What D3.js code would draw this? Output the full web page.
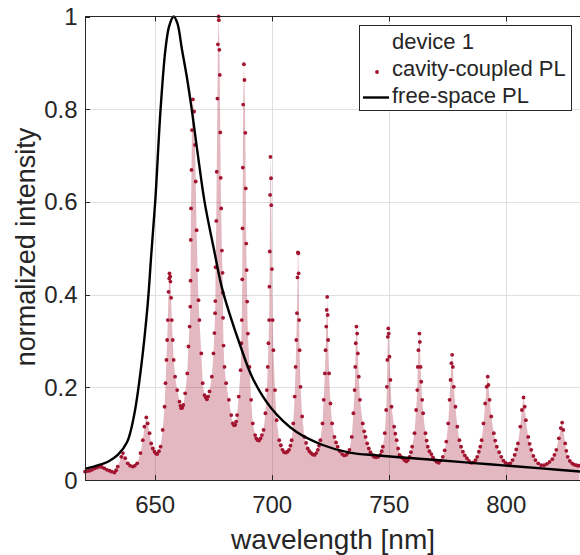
<!DOCTYPE html>
<html>
<head>
<meta charset="utf-8">
<script src="https://cdn.jsdelivr.net/npm/d3@7"></script>
<style>
  body { margin: 0; background: white; }
  svg text { font-family: "Liberation Sans", Arial, Helvetica, sans-serif; fill: #262626; }
</style>
</head>
<body>
<div id="chart"></div>
<script>
// cavity-coupled PL (wavelength in nm, normalized intensity)
var cavWavelength = [
  620.0, 621.9, 624.1, 626.2, 628.3, 630.5, 632.6, 634.0, 635.5, 636.2, 637.2, 638.3, 640.4, 642.3,
  643.7, 644.7, 645.4, 646.2, 646.8, 647.6, 648.3, 649.7, 650.9, 652.3, 653.2, 654.0, 654.4, 654.8,
  655.1, 655.4, 655.7, 656.0, 656.1, 656.4, 656.5, 656.8, 657.1, 657.5, 657.9, 658.5, 659.4, 660.4,
  661.1, 662.0, 662.8, 663.7, 664.2, 664.7, 665.0, 665.1, 665.2, 665.3, 665.5, 665.7, 666.1, 666.6,
  667.0, 667.3, 667.7, 668.1, 668.5, 668.9, 669.7, 670.3, 671.1, 672.1, 673.2, 674.2, 674.9, 675.3,
  675.6, 675.7, 675.8, 676.1, 676.3, 676.6, 676.8, 677.1, 677.2, 677.4, 677.6, 677.8, 678.0, 678.2,
  678.5, 678.8, 678.9, 679.0, 679.2, 679.6, 680.3, 681.5, 682.5, 683.2, 684.2, 685.0, 685.7, 686.5,
  686.8, 687.0, 687.2, 687.3, 687.45, 687.6, 687.9, 688.15, 688.5, 688.7, 688.9, 689.1, 689.3, 689.6,
  690.3, 691.0, 691.7, 692.7, 693.8, 695.0, 696.3, 697.1, 697.7, 698.1, 698.4, 698.7, 698.8, 698.95,
  699.1, 699.25, 699.5, 699.6, 699.9, 700.2, 700.5, 701.2, 701.9, 703.0, 704.4, 705.8, 707.2, 708.3,
  709.0, 709.6, 710.0, 710.3, 710.6, 710.8, 711.0, 711.15, 711.3, 711.5, 711.7, 712.1, 712.8, 713.8,
  715.2, 716.6, 718.1, 719.5, 720.6, 721.5, 722.0, 722.5, 722.8, 723.1, 723.3, 723.5, 723.7, 723.9,
  724.3, 724.9, 725.6, 726.6, 728.0, 729.9, 731.6, 733.0, 734.0, 734.7, 735.2, 735.5, 735.7, 736.0,
  736.3, 736.6, 737.0, 737.5, 738.7, 739.9, 741.3, 742.7, 744.4, 746.2, 747.3, 748.1, 748.7, 749.0,
  749.2, 749.4, 749.6, 749.8, 750.1, 750.5, 751.0, 752.1, 753.2, 754.4, 755.8, 757.3, 758.7, 759.8,
  760.8, 761.5, 762.0, 762.2, 762.5, 762.9, 763.1, 763.4, 763.7, 764.1, 764.5, 765.5, 766.5, 768.0,
  769.4, 771.2, 772.9, 774.4, 775.2, 775.8, 776.2, 776.6, 776.9, 777.2, 777.6, 778.3, 779.1, 780.0,
  781.5, 783.2, 785.0, 786.9, 788.3, 789.5, 790.3, 791.0, 791.6, 792.1, 792.4, 792.9, 793.6, 794.7,
  796.0, 797.9, 799.7, 801.7, 803.6, 805.0, 806.0, 806.7, 807.4, 807.9, 808.4, 809.4, 810.7, 812.5,
  815.0, 817.4, 819.7, 821.4, 822.5, 823.3, 823.9, 824.4, 825.2, 826.3, 828.2, 829.9, 831.3
];
var cavIntensity = [
  0.018, 0.020, 0.025, 0.029, 0.025, 0.020, 0.016, 0.029, 0.050, 0.058, 0.047, 0.036, 0.029, 0.036,
  0.058, 0.086, 0.115, 0.135, 0.122, 0.101, 0.079, 0.061, 0.056, 0.072, 0.108, 0.158, 0.209, 0.259,
  0.302, 0.345, 0.406, 0.435, 0.446, 0.439, 0.428, 0.393, 0.345, 0.302, 0.259, 0.223, 0.194, 0.169,
  0.155, 0.162, 0.187, 0.230, 0.288, 0.331, 0.374, 0.430, 0.518, 0.586, 0.669, 0.755, 0.821, 0.795,
  0.723, 0.644, 0.539, 0.453, 0.388, 0.345, 0.273, 0.209, 0.183, 0.174, 0.191, 0.223, 0.273, 0.317,
  0.360, 0.386, 0.459, 0.559, 0.665, 0.823, 0.940, 1.000, 0.992, 0.928, 0.874, 0.750, 0.652, 0.586,
  0.495, 0.447, 0.404, 0.350, 0.290, 0.244, 0.209, 0.173, 0.140, 0.122, 0.119, 0.140, 0.180, 0.237,
  0.295, 0.345, 0.433, 0.543, 0.674, 0.810, 0.897, 0.863, 0.749, 0.629, 0.510, 0.453, 0.385, 0.316,
  0.244, 0.173, 0.122, 0.097, 0.086, 0.090, 0.108, 0.144, 0.194, 0.244, 0.295, 0.345, 0.417, 0.493,
  0.615, 0.697, 0.651, 0.593, 0.455, 0.345, 0.280, 0.194, 0.129, 0.086, 0.065, 0.059, 0.065, 0.086,
  0.122, 0.180, 0.244, 0.302, 0.360, 0.437, 0.491, 0.489, 0.446, 0.345, 0.280, 0.201, 0.137, 0.093,
  0.068, 0.058, 0.054, 0.065, 0.086, 0.122, 0.173, 0.230, 0.280, 0.331, 0.367, 0.395, 0.356, 0.302,
  0.230, 0.165, 0.122, 0.093, 0.072, 0.056, 0.054, 0.065, 0.093, 0.144, 0.194, 0.244, 0.295, 0.331,
  0.316, 0.273, 0.223, 0.173, 0.122, 0.093, 0.068, 0.054, 0.049, 0.054, 0.072, 0.101, 0.151, 0.201,
  0.259, 0.309, 0.327, 0.316, 0.266, 0.216, 0.158, 0.115, 0.086, 0.054, 0.047, 0.040, 0.050, 0.072,
  0.101, 0.151, 0.194, 0.244, 0.280, 0.316, 0.298, 0.244, 0.212, 0.173, 0.144, 0.101, 0.072, 0.056,
  0.043, 0.037, 0.050, 0.083, 0.122, 0.173, 0.216, 0.252, 0.270, 0.244, 0.201, 0.158, 0.115, 0.086,
  0.061, 0.047, 0.037, 0.043, 0.061, 0.086, 0.122, 0.165, 0.201, 0.223, 0.205, 0.173, 0.137, 0.101,
  0.072, 0.050, 0.037, 0.036, 0.054, 0.079, 0.115, 0.151, 0.178, 0.158, 0.129, 0.093, 0.065, 0.043,
  0.032, 0.035, 0.045, 0.065, 0.090, 0.112, 0.124, 0.108, 0.079, 0.050, 0.036, 0.032, 0.031
];

// extra readings in the dense valleys between the resonances
var cavValleyWavelength = [
  620.8, 623.0, 625.2, 627.2, 629.4, 631.5, 633.3, 639.3, 641.3, 649.0, 650.3, 651.6, 660.8, 661.6,
  671.6, 672.6, 683.7, 684.6, 693.2, 694.4, 695.6, 703.7, 705.1, 706.5, 707.8, 714.5, 715.9, 717.3,
  718.8, 720.0, 727.3, 728.9, 730.7, 732.3, 739.3, 740.6, 742.0, 743.5, 745.3, 746.8, 752.6, 753.8,
  755.1, 756.5, 758.0, 759.3, 766.0, 767.2, 768.7, 770.3, 772.0, 773.7, 780.7, 782.3, 784.1, 785.9,
  787.6, 788.9, 795.3, 797.0, 798.8, 800.7, 802.7, 804.3, 810.0, 811.6, 813.7, 816.2, 818.5, 820.6,
  825.7, 827.2, 829.0, 830.6
];
var cavValleyIntensity = [
  0.019, 0.022, 0.027, 0.028, 0.022, 0.018, 0.021, 0.031, 0.031, 0.068, 0.057, 0.062, 0.160, 0.156,
  0.178, 0.180, 0.118, 0.126, 0.090, 0.085, 0.097, 0.075, 0.060, 0.061, 0.074, 0.080, 0.062, 0.055,
  0.058, 0.074, 0.081, 0.062, 0.053, 0.058, 0.105, 0.079, 0.060, 0.050, 0.050, 0.062, 0.100, 0.068,
  0.050, 0.043, 0.043, 0.060, 0.085, 0.062, 0.049, 0.039, 0.042, 0.064, 0.072, 0.053, 0.041, 0.038,
  0.050, 0.072, 0.085, 0.060, 0.042, 0.035, 0.043, 0.066, 0.078, 0.052, 0.036, 0.032, 0.039, 0.054,
  0.063, 0.041, 0.033, 0.031
];

// free-space PL
var freeWavelength = [
  620, 625, 630, 634, 638, 641, 644, 646.8, 648.3, 650, 652.3, 654.4, 656, 657.9, 659.5, 661.4,
  663.5, 665.6, 668, 671.1, 675, 678.5, 682, 686, 691.7, 699.6, 710.3, 721.6, 733, 745, 754.4,
  770, 785, 800, 815, 832
];
var freeIntensity = [
  0.024, 0.031, 0.040, 0.054, 0.082, 0.140, 0.244, 0.380, 0.485, 0.600, 0.800, 0.930, 0.980, 1.000,
  0.985, 0.930, 0.870, 0.800, 0.710, 0.600, 0.500, 0.415, 0.355, 0.295, 0.219, 0.155, 0.104, 0.0755,
  0.059, 0.053, 0.049, 0.043, 0.037, 0.031, 0.025, 0.018
];

var xTicks = [650, 700, 750, 800];
var yTicks = [0, 0.2, 0.4, 0.6, 0.8, 1];
var yTickLabels = ["0", "0.2", "0.4", "0.6", "0.8", "1"];
var legendLabels = ["device 1", "cavity-coupled PL", "free-space PL"];

var width      = 580;
var height     = 555;
var plotLeft   = 85;
var plotRight  = 581.1;
var plotTop    = 16.5;
var plotBottom = 480;
var darkRed    = "#A2142F";
var axisColor  = "#262626";
var gridColor  = "#dfdfdf";

var x = d3.scaleLinear().domain([620, 832]).range([plotLeft, plotRight]);
var y = d3.scaleLinear().domain([0, 1]).range([plotBottom, plotTop]);

var svg = d3.select("#chart")
  .append("svg")
  .attr("width", width)
  .attr("height", height);

// grid
svg.append("g").selectAll("line")
  .data(xTicks)
  .join("line")
  .attr("x1", function(d) { return Math.round(x(d)) + 0.5; })
  .attr("x2", function(d) { return Math.round(x(d)) + 0.5; })
  .attr("y1", plotTop)
  .attr("y2", plotBottom)
  .style("stroke", gridColor);

svg.append("g").selectAll("line")
  .data(yTicks.slice(1, -1))
  .join("line")
  .attr("x1", plotLeft)
  .attr("x2", plotRight)
  .attr("y1", function(d) { return Math.round(y(d)) + 0.5; })
  .attr("y2", function(d) { return Math.round(y(d)) + 0.5; })
  .style("stroke", gridColor);

var cavData = cavWavelength.map(function(w, i) { return [w, cavIntensity[i]]; })
  .concat(cavValleyWavelength.map(function(w, i) { return [w, cavValleyIntensity[i]]; }))
  .sort(function(a, b) { return a[0] - b[0]; });
var freeData = freeWavelength.map(function(w, i) { return [w, freeIntensity[i]]; });

// shaded area under the cavity spectrum
var area = d3.area()
  .x(function(d) { return x(d[0]); })
  .y0(y(0))
  .y1(function(d) { return y(d[1]); });

svg.append("path")
  .datum(cavData)
  .attr("d", area)
  .style("fill", darkRed)
  .style("fill-opacity", 0.3);

// cavity dots
svg.append("g").selectAll("circle")
  .data(cavData)
  .join("circle")
  .attr("cx", function(d) { return x(d[0]); })
  .attr("cy", function(d) { return y(d[1]); })
  .attr("r", 1.9)
  .style("fill", darkRed);

// free-space line
var line = d3.line()
  .x(function(d) { return x(d[0]); })
  .y(function(d) { return y(d[1]); })
  .curve(d3.curveCatmullRom);

svg.append("path")
  .datum(freeData)
  .attr("d", line)
  .style("fill", "none")
  .style("stroke", "black")
  .style("stroke-width", 2.4);

// axes box (right side falls outside the window)
svg.append("line")
  .attr("x1", plotLeft).attr("x2", plotRight + 1)
  .attr("y1", plotBottom + 0.5).attr("y2", plotBottom + 0.5)
  .style("stroke", axisColor);
svg.append("line")
  .attr("x1", plotLeft).attr("x2", plotRight + 1)
  .attr("y1", plotTop).attr("y2", plotTop)
  .style("stroke", axisColor);
svg.append("line")
  .attr("x1", plotLeft + 0.5).attr("x2", plotLeft + 0.5)
  .attr("y1", plotTop).attr("y2", plotBottom)
  .style("stroke", axisColor);

// ticks (inward, on bottom/top and left)
svg.append("g").selectAll("line")
  .data(xTicks)
  .join("line")
  .attr("x1", function(d) { return Math.round(x(d)) + 0.5; })
  .attr("x2", function(d) { return Math.round(x(d)) + 0.5; })
  .attr("y1", plotBottom)
  .attr("y2", plotBottom - 5)
  .style("stroke", axisColor);
svg.append("g").selectAll("line")
  .data(xTicks)
  .join("line")
  .attr("x1", function(d) { return Math.round(x(d)) + 0.5; })
  .attr("x2", function(d) { return Math.round(x(d)) + 0.5; })
  .attr("y1", plotTop)
  .attr("y2", plotTop + 5)
  .style("stroke", axisColor);
svg.append("g").selectAll("line")
  .data(yTicks)
  .join("line")
  .attr("x1", plotLeft)
  .attr("x2", plotLeft + 5)
  .attr("y1", function(d) { return Math.round(y(d)) + 0.5; })
  .attr("y2", function(d) { return Math.round(y(d)) + 0.5; })
  .style("stroke", axisColor);

// tick labels
svg.append("g").selectAll("text")
  .data(xTicks)
  .join("text")
  .attr("x", function(d) { return x(d); })
  .attr("y", 513)
  .attr("text-anchor", "middle")
  .style("font-size", "24px")
  .text(function(d) { return d; });

svg.append("g").selectAll("text")
  .data(yTicks)
  .join("text")
  .attr("x", 77.5)
  .attr("y", function(d) { return y(d) + 8.5; })
  .attr("text-anchor", "end")
  .style("font-size", "24px")
  .text(function(d, i) { return yTickLabels[i]; });

// axis labels
svg.append("text")
  .attr("x", (plotLeft + plotRight) / 2)
  .attr("y", 549)
  .attr("text-anchor", "middle")
  .style("font-size", "28px")
  .text("wavelength [nm]");

svg.append("text")
  .attr("transform", "translate(35,247) rotate(-90)")
  .attr("text-anchor", "middle")
  .style("font-size", "27px")
  .text("normalized intensity");

// legend
var legend = svg.append("g");
legend.append("rect")
  .attr("x", 359.5)
  .attr("y", 25.5)
  .attr("width", 212)
  .attr("height", 85)
  .style("fill", "white")
  .style("stroke", axisColor)
  .style("stroke-width", 1);

legend.selectAll("text")
  .data(legendLabels)
  .join("text")
  .attr("x", 392)
  .attr("y", function(d, i) { return 49 + i * 27; })
  .style("font-size", "22px")
  .text(function(d) { return d; });

legend.append("circle")
  .attr("cx", 377)
  .attr("cy", 72)
  .attr("r", 1.9)
  .style("fill", darkRed);

legend.append("line")
  .attr("x1", 363)
  .attr("x2", 389)
  .attr("y1", 97.5)
  .attr("y2", 97.5)
  .style("stroke", "black")
  .style("stroke-width", 2.4);
</script>
</body>
</html>
